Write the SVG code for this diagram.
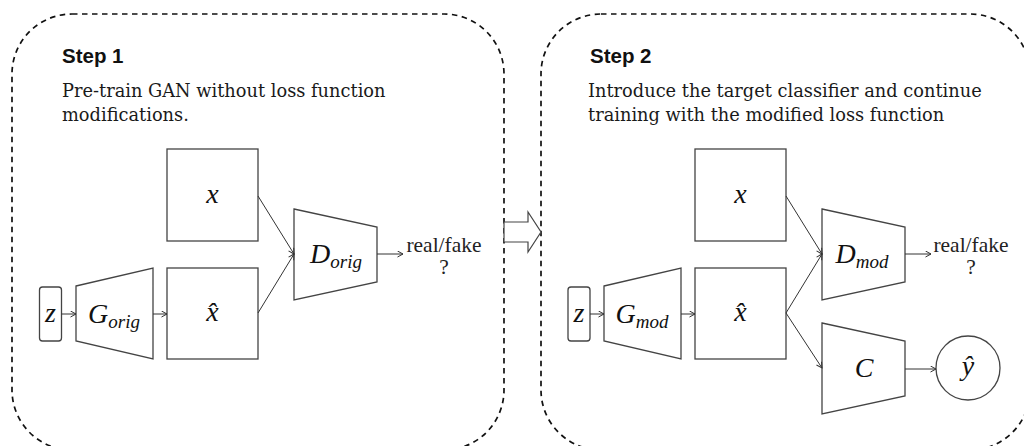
<svg xmlns="http://www.w3.org/2000/svg" width="1024" height="446" viewBox="0 0 1024 446">
  <style>
    .panel { fill: none; stroke: #111; stroke-width: 1.7; stroke-dasharray: 5.5 4.5; }
    .title { font-family: "Liberation Sans", Arial, sans-serif; font-weight: bold; font-size: 20.5px; fill: #111; }
    .desc { font-family: "DejaVu Serif", "Liberation Serif", serif; font-size: 17.8px; fill: #1a1a1a; }
    .shape { fill: #fff; stroke: #444; stroke-width: 1.3; }
    .math { font-family: "Liberation Serif", "Times New Roman", serif; font-style: italic; font-size: 28px; fill: #111; text-anchor: middle; }
    .sub { font-size: 19px; }
    .out { font-family: "Liberation Serif", "Times New Roman", serif; font-size: 21.5px; fill: #222; text-anchor: middle; }
    .link { fill: none; stroke: #333; stroke-width: 1; marker-end: url(#tip); }
  </style>
  <defs>
    <marker id="tip" markerWidth="8" markerHeight="8" refX="6" refY="3.5" orient="auto" markerUnits="userSpaceOnUse">
      <path d="M0.5,0.5 L6,3.5 L0.5,6.5" fill="none" stroke="#333" stroke-width="1"/>
    </marker>
  </defs>

  <rect width="1024" height="446" fill="#fff"/>

  <!-- Step 1 panel -->
  <g id="panel-step1">
    <rect class="panel" x="12" y="14" width="492" height="436" rx="60" ry="60"/>
    <text class="title" x="62" y="63">Step 1</text>
    <text class="desc" x="62" y="97">Pre-train GAN without loss function</text>
    <text class="desc" x="62" y="121">modifications.</text>
  </g>

  <!-- Step 2 panel -->
  <g id="panel-step2">
    <rect class="panel" x="541" y="14" width="489" height="436" rx="60" ry="60"/>
    <text class="title" x="590" y="63">Step 2</text>
    <text class="desc" x="588" y="97">Introduce the target classifier and continue</text>
    <text class="desc" x="588" y="121">training with the modified loss function</text>
  </g>

  <!-- transition arrow between the steps -->
  <g id="step-arrow">
    <polygon points="504,222 528,222 528,212 541,232 528,252 528,242 504,242" fill="#fff" stroke="#444" stroke-width="1.2"/>
  </g>

  <!-- Step 1 nodes -->
  <g id="z1">
    <rect class="shape" x="39.5" y="287" width="22" height="54" rx="3"/>
    <text class="math" x="50.5" y="322">z</text>
  </g>
  <g id="g-orig">
    <polygon class="shape" points="76,286 153,268 153,359 76,341"/>
    <text class="math" x="114" y="323">G<tspan class="sub" dy="5">orig</tspan></text>
  </g>
  <g id="x1">
    <rect class="shape" x="167" y="149" width="91" height="92"/>
    <text class="math" x="212.5" y="203">x</text>
  </g>
  <g id="xhat1">
    <rect class="shape" x="167" y="268" width="91" height="91"/>
    <text class="math" x="212.5" y="321">x̂</text>
  </g>
  <g id="d-orig">
    <polygon class="shape" points="294,209 377,227 377,282 294,300"/>
    <text class="math" x="336" y="263">D<tspan class="sub" dy="5">orig</tspan></text>
  </g>
  <g id="out1">
    <text class="out" x="444" y="252">real/fake</text>
    <text class="out" x="444" y="274">?</text>
  </g>

  <!-- Step 2 nodes -->
  <g id="z2">
    <rect class="shape" x="568" y="287" width="22" height="54" rx="3"/>
    <text class="math" x="579" y="322">z</text>
  </g>
  <g id="g-mod">
    <polygon class="shape" points="604,286 681,268 681,359 604,341"/>
    <text class="math" x="642" y="323">G<tspan class="sub" dy="5">mod</tspan></text>
  </g>
  <g id="x2">
    <rect class="shape" x="695" y="149" width="91" height="92"/>
    <text class="math" x="740.5" y="203">x</text>
  </g>
  <g id="xhat2">
    <rect class="shape" x="695" y="268" width="91" height="91"/>
    <text class="math" x="740.5" y="321">x̂</text>
  </g>
  <g id="d-mod">
    <polygon class="shape" points="822,209 905,227 905,282 822,300"/>
    <text class="math" x="862" y="263">D<tspan class="sub" dy="5">mod</tspan></text>
  </g>
  <g id="classifier">
    <polygon class="shape" points="822,323 905,341 905,396 822,414"/>
    <text class="math" x="864" y="377">C</text>
  </g>
  <g id="yhat">
    <circle class="shape" cx="968" cy="368" r="32"/>
    <text class="math" x="968" y="375">ŷ</text>
  </g>
  <g id="out2">
    <text class="out" x="971" y="252">real/fake</text>
    <text class="out" x="971" y="274">?</text>
  </g>

  <!-- connectors -->
  <g id="connectors">
    <line class="link" x1="61.5" y1="314" x2="76" y2="314"/>
    <line class="link" x1="153" y1="314" x2="167" y2="314"/>
    <line class="link" x1="258" y1="196" x2="294" y2="254"/>
    <line class="link" x1="258" y1="313" x2="294" y2="254"/>
    <line class="link" x1="377" y1="254" x2="403" y2="254"/>

    <line class="link" x1="590" y1="314" x2="604" y2="314"/>
    <line class="link" x1="681" y1="314" x2="695" y2="314"/>
    <line class="link" x1="786" y1="196" x2="822" y2="254"/>
    <line class="link" x1="786" y1="313" x2="822" y2="254"/>
    <line class="link" x1="786" y1="313" x2="822" y2="368"/>
    <line class="link" x1="905" y1="254" x2="931" y2="254"/>
    <line class="link" x1="905" y1="369" x2="936" y2="369"/>
  </g>
</svg>
